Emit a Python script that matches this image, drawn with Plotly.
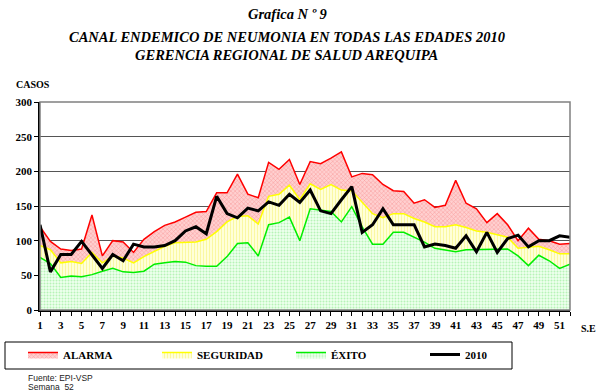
import plotly.graph_objects as go

# Semanas epidemiológicas 1..52
semanas = list(range(1, 53))
etiquetas_x = [str(s) if s % 2 == 1 else "" for s in semanas]

# Límites del canal endémico (casos)
exito = [76, 67, 47, 49, 48, 51, 56, 60, 55, 54, 56, 66, 68, 70, 69, 64,
         63, 63, 77, 96, 97, 78, 123, 126, 134, 100, 146, 144, 142, 127, 149, 120,
         95, 95, 112, 112, 105, 98, 89, 87, 84, 87, 87, 87, 87, 88, 78, 64,
         79, 71, 60, 66]
seguridad = [93, 87, 68, 70, 67, 83, 68, 78, 75, 68, 77, 85, 92, 97, 97, 98,
             102, 113, 127, 135, 136, 124, 164, 167, 180, 159, 182, 174, 181, 173, 172, 156,
             139, 133, 139, 139, 132, 127, 120, 120, 123, 119, 114, 112, 108, 105, 89, 90,
             92, 87, 81, 81]
alarma = [120, 99, 88, 86, 88, 137, 78, 100, 98, 83, 102, 113, 122, 127, 134, 141,
          142, 169, 169, 196, 167, 162, 213, 203, 217, 181, 214, 211, 219, 228, 192, 197,
          195, 181, 172, 171, 154, 159, 148, 151, 187, 154, 146, 126, 139, 123, 100, 118,
          102, 100, 95, 96]
# Casos notificados 2010
casos_2010 = [123, 55, 80, 80, 99, 79, 60, 80, 71, 95, 91, 91, 93, 100, 114, 120,
              110, 164, 139, 133, 147, 143, 156, 151, 167, 155, 173, 143, 139, 159, 178, 112,
              123, 146, 123, 123, 123, 91, 95, 93, 89, 107, 84, 112, 83, 103, 108, 91,
              100, 100, 107, 105]

ticks_y = [0, 50, 100, 150, 200, 250, 300]

serif = "Times New Roman"
sans = "Arial"

# conversión de píxeles de la página a coordenadas "paper" del área de trazado
L, R, T, B = 40, 26, 102, 81
W, H = 596, 391
PW, PH = W - L - R, H - T - B


def px(x):
    return (x - L) / PW


def py(y):
    return (H - B - y) / PH


fig = go.Figure()

fig.add_trace(go.Scatter(
    x=semanas, y=exito, name="ÉXITO", mode="lines", fill="tozeroy",
    line=dict(color="#00ee00", width=1.5),
    fillcolor="rgba(0,0,0,0)",
    fillpattern=dict(shape=".", fgcolor="#7fe87f", bgcolor="#eeffee", size=3, solidity=0.35),
    legendrank=3))
fig.add_trace(go.Scatter(
    x=semanas, y=seguridad, name="SEGURIDAD", mode="lines", fill="tonexty",
    line=dict(color="#ffff00", width=1.5),
    fillcolor="rgba(0,0,0,0)",
    fillpattern=dict(shape="|", fgcolor="#f5f060", bgcolor="#ffffd8", size=3, solidity=0.3),
    legendrank=2))
fig.add_trace(go.Scatter(
    x=semanas, y=alarma, name="ALARMA", mode="lines", fill="tonexty",
    line=dict(color="#ff0000", width=1.5),
    fillcolor="rgba(0,0,0,0)",
    fillpattern=dict(shape="x", fgcolor="#f06060", bgcolor="#ffd0d0", size=3, solidity=0.3),
    legendrank=1))
fig.add_trace(go.Scatter(
    x=semanas, y=casos_2010, name="2010", mode="lines",
    line=dict(color="#000000", width=3),
    legendrank=4))

titulo = [("Grafica N º 9", 14), ("CANAL ENDEMICO DE NEUMONIA EN TODAS LAS EDADES 2010", 37),
          ("GERENCIA REGIONAL DE SALUD AREQUIPA", 55)]
anots = []
for texto, ypx in titulo:
    anots.append(dict(text=f"<b><i>{texto}</i></b>", xref="paper", yref="paper",
                      x=px(287), y=py(ypx), xanchor="center", yanchor="middle",
                      showarrow=False, font=dict(family=serif, size=14.5, color="black")))
anots.append(dict(text="<b>CASOS</b>", xref="paper", yref="paper", x=px(14),
                  y=py(84), xanchor="left", yanchor="middle", showarrow=False,
                  font=dict(family=serif, size=10, color="black")))
anots.append(dict(text="<b>S.E</b>", xref="paper", yref="paper", x=px(579),
                  y=py(328), xanchor="left", yanchor="middle", showarrow=False,
                  font=dict(family=serif, size=10, color="black")))
anots.append(dict(text="Fuente: EPI-VSP", xref="paper", yref="paper",
                  x=px(26), y=py(378), xanchor="left", yanchor="middle",
                  showarrow=False, font=dict(family=sans, size=8.5, color="#222")))
anots.append(dict(text="Semana  52", xref="paper", yref="paper",
                  x=px(26), y=py(387), xanchor="left", yanchor="middle",
                  showarrow=False, font=dict(family=sans, size=8.5, color="#222")))

fig.update_layout(
    width=W, height=H,
    margin=dict(l=L, r=R, t=T, b=B),
    paper_bgcolor="white", plot_bgcolor="white",
    showlegend=True,
    legend=dict(orientation="h", x=px(23), y=py(340),
                xanchor="left", yanchor="top",
                borderwidth=0, bgcolor="rgba(0,0,0,0)",
                entrywidth=89, entrywidthmode="pixels",
                font=dict(family=serif, size=11, color="black", weight="bold"),
                traceorder="normal"),
    annotations=anots,
    shapes=[
        dict(type="rect", xref="paper", yref="paper", x0=0, x1=1, y0=0, y1=1,
             line=dict(color="#808080", width=1.5), layer="above"),
        # recuadro de la leyenda
        dict(type="rect", xref="paper", yref="paper", x0=px(5), x1=px(512),
             y0=py(369), y1=py(342), line=dict(color="black", width=1), layer="above"),
    ],
    xaxis=dict(range=[1, 52], tickvals=semanas, ticktext=etiquetas_x, ticks="outside",
               ticklen=4, tickcolor="black", showgrid=False, zeroline=False,
               showline=True, linecolor="black", linewidth=1.5,
               tickfont=dict(family=serif, size=11, color="black", weight="bold")),
    yaxis=dict(range=[0, 300], tickvals=ticks_y, ticks="outside", ticklen=4,
               tickcolor="black", showgrid=True, gridcolor="#555555", gridwidth=1,
               zeroline=False, showline=True, linecolor="black", linewidth=1.5,
               tickfont=dict(family=serif, size=11, color="black", weight="bold")),
)

fig.write_html("out.html")
